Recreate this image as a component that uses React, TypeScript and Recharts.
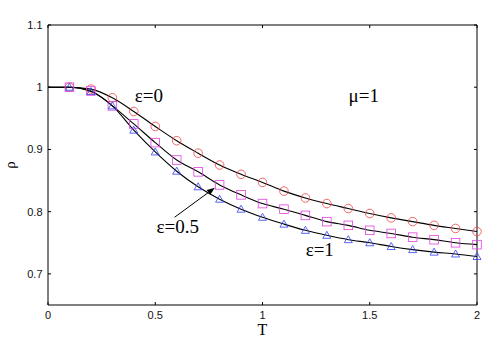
import React from 'react';
import {
  ComposedChart, Line, Scatter, XAxis, YAxis, ReferenceLine, ReferenceDot, Label,
} from 'recharts';

const temps = [0.1, 0.2, 0.3, 0.4, 0.5, 0.6, 0.7, 0.8, 0.9, 1.0, 1.1, 1.2, 1.3, 1.4, 1.5, 1.6, 1.7, 1.8, 1.9, 2.0];
const eps0 = [1.0, 0.997, 0.983, 0.961, 0.937, 0.914, 0.894, 0.875, 0.860, 0.847, 0.833, 0.822, 0.813, 0.805, 0.797, 0.790, 0.784, 0.778, 0.773, 0.768];
const eps05 = [1.0, 0.994, 0.970, 0.941, 0.911, 0.883, 0.864, 0.843, 0.827, 0.813, 0.804, 0.794, 0.784, 0.778, 0.770, 0.765, 0.759, 0.755, 0.750, 0.747];
const eps1 = [1.0, 0.993, 0.970, 0.931, 0.896, 0.865, 0.840, 0.820, 0.804, 0.791, 0.780, 0.770, 0.762, 0.755, 0.750, 0.744, 0.739, 0.735, 0.732, 0.728];

const xTicks = [0, 0.5, 1, 1.5, 2];
const yTicks = [0.7, 0.8, 0.9, 1, 1.1];
const X_MIN = 0;
const X_MAX = 2;
const Y_MIN = 0.65;
const Y_MAX = 1.1;

const lineData = [{ T: 0, a: 1, b: 1, c: 1 }].concat(
  temps.map((t, i) => ({ T: t, a: eps0[i], b: eps05[i], c: eps1[i] }))
);
const mk = (vals: number[]) => temps.map((t, i) => ({ T: t, v: vals[i] }));
const m0 = mk(eps0);
const m05 = mk(eps05);
const m1 = mk(eps1);

// frame: top edge (with inward ticks) and right edge (with inward ticks)
const topEdge = xTicks.map((t) => ({ T: t, v: Y_MAX, tick: true }));
const rightEdge = [{ T: X_MAX, v: Y_MIN, tick: false }].concat(
  yTicks.map((y) => ({ T: X_MAX, v: y, tick: true }))
);

const circle = (p: any) => (
  <circle cx={p.cx} cy={p.cy} r={4.3} fill="none" stroke="#f04040" strokeWidth={0.8} />
);
const square = (p: any) => (
  <rect x={p.cx - 4.3} y={p.cy - 4.3} width={8.6} height={8.6} fill="none" stroke="#e040e0" strokeWidth={0.8} />
);
const triangle = (p: any) => (
  <polygon
    points={`${p.cx - 4},${p.cy + 3} ${p.cx + 4},${p.cy + 3} ${p.cx},${p.cy - 4}`}
    fill="none" stroke="#3040f0" strokeWidth={0.8}
  />
);
const topTick = (p: any) => (
  <line x1={p.cx} y1={p.cy} x2={p.cx} y2={p.cy + 3} stroke="#000" strokeWidth={1} />
);
const rightTick = (p: any) => {
  const show = p.payload ? p.payload.tick !== false : true;
  return show
    ? <line x1={p.cx} y1={p.cy} x2={p.cx - 3} y2={p.cy} stroke="#000" strokeWidth={1} />
    : <g />;
};

const serif = '"Liberation Serif", "DejaVu Serif", serif';
const sans = '"Liberation Sans", Arial, sans-serif';

const textShape = (label: string, size: number, rotate = false) => (p: any) => (
  <text x={p.cx} y={p.cy} textAnchor="middle" fontFamily={serif} fontSize={size} fill="#000"
    transform={rotate ? `rotate(-90 ${p.cx} ${p.cy})` : undefined}>{label}</text>
);

const arrowShape = (p: any) => {
  const { x1, y1, x2, y2 } = p;
  const ang = Math.atan2(y2 - y1, x2 - x1);
  const L = 8, W = 3;
  const bx = x2 - L * Math.cos(ang), by = y2 - L * Math.sin(ang);
  const px = -Math.sin(ang) * W, py = Math.cos(ang) * W;
  return (
    <g>
      <line x1={x1} y1={y1} x2={bx} y2={by} stroke="#000" strokeWidth={1} />
      <polygon points={`${x2},${y2} ${bx + px},${by + py} ${bx - px},${by - py}`} fill="#000" />
    </g>
  );
};

const tickStyle = { fontFamily: sans, fontSize: 11, fill: '#111' };

export default function App() {
  return (
    <div style={{ position: 'absolute', left: 0, top: 0, background: '#fff' }}>
      <ComposedChart width={500} height={350} data={lineData}
        margin={{ top: 25, right: 23, bottom: 15, left: 0 }}>
        <XAxis dataKey="T" type="number" domain={[X_MIN, X_MAX]} ticks={xTicks} height={30}
          tickSize={-3} tickMargin={9} stroke="#000" tick={tickStyle}
          tickLine={{ stroke: '#000' }} axisLine={{ stroke: '#000' }}>
          <Label value="T" position="insideBottom" offset={0}
            style={{ fontFamily: serif, fontSize: 16, fill: '#000' }} />
        </XAxis>
        <YAxis type="number" domain={[Y_MIN, Y_MAX]} ticks={yTicks} width={48}
          tickSize={-3} tickMargin={8.5} stroke="#000" tick={tickStyle}
          tickLine={{ stroke: '#000' }} axisLine={{ stroke: '#000' }} />
        <Line dataKey="a" type="monotone" stroke="#000" strokeWidth={1.1} dot={false} isAnimationActive={false} />
        <Line dataKey="b" type="monotone" stroke="#000" strokeWidth={1.1} dot={false} isAnimationActive={false} />
        <Line dataKey="c" type="monotone" stroke="#000" strokeWidth={1.1} dot={false} isAnimationActive={false} />
        <Scatter data={topEdge} dataKey="v" shape={topTick} line={{ stroke: '#000', strokeWidth: 1 }}
          lineType="joint" isAnimationActive={false} />
        <Scatter data={rightEdge} dataKey="v" shape={rightTick} line={{ stroke: '#000', strokeWidth: 1 }}
          lineType="joint" isAnimationActive={false} />
        <Scatter data={m0} dataKey="v" shape={circle} isAnimationActive={false} />
        <Scatter data={m05} dataKey="v" shape={square} isAnimationActive={false} />
        <Scatter data={m1} dataKey="v" shape={triangle} isAnimationActive={false} />
        <ReferenceLine segment={[{ x: 0.59, y: 0.791 }, { x: 0.778, y: 0.8385 }]} shape={arrowShape} />
        <ReferenceDot x={0.47} y={0.976} r={0} shape={textShape('ε=0', 19)} />
        <ReferenceDot x={1.472} y={0.976} r={0} shape={textShape('μ=1', 19)} />
        <ReferenceDot x={0.605} y={0.765} r={0} shape={textShape('ε=0.5', 19)} />
        <ReferenceDot x={1.267} y={0.729} r={0} shape={textShape('ε=1', 19)} />
        <ReferenceDot x={-0.156} y={0.875} r={0} ifOverflow="visible" shape={textShape('ρ', 15, true)} />
      </ComposedChart>
    </div>
  );
}
